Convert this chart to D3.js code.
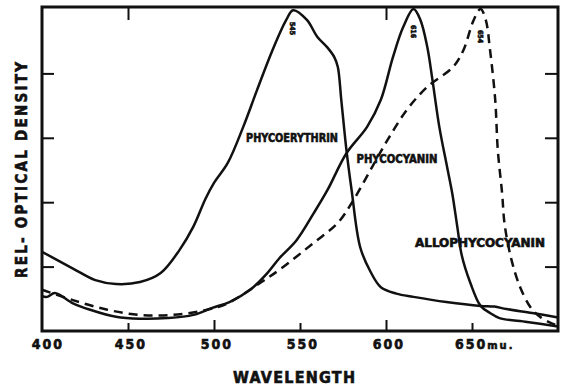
<!DOCTYPE html>
<html>
<head>
<meta charset="utf-8">
<script src="https://cdn.jsdelivr.net/npm/d3@7"></script>
<style>
  body { margin: 0; background: #fff; }
  text { font-family: "DejaVu Sans Condensed", "DejaVu Sans", sans-serif; font-weight: bold; fill: #111; stroke: #111; stroke-width: 0.6px; }
</style>
</head>
<body>
<div id="chart-area"></div>
<script>
// absorption spectra (nm, relative optical density)
var peWave = [400, 418, 431, 443, 457, 469, 480, 488, 495, 500, 508, 517, 525, 534, 542, 546, 554, 560, 566, 570, 572, 574, 577, 580, 585, 591, 597, 606, 616, 635, 655, 663, 670, 685, 700]
var peOd   = [1.23, 0.97, 0.79, 0.73, 0.76, 0.90, 1.26, 1.62, 2.05, 2.30, 2.61, 3.17, 3.74, 4.36, 4.83, 4.98, 4.83, 4.57, 4.40, 4.25, 4.10, 3.59, 2.81, 2.19, 1.30, 0.92, 0.68, 0.58, 0.53, 0.45, 0.39, 0.38, 0.34, 0.28, 0.21]

var pcWave = [400, 403, 407.5, 418, 428, 443, 457, 473, 488, 499, 509, 521, 531, 538, 548, 558, 566, 577, 589, 597, 604, 610, 616, 620, 624, 627, 631, 635.5, 638.5, 641.5, 644, 649, 655, 660.5, 666, 682, 700]
var pcOd   = [0.54, 0.53, 0.59, 0.43, 0.33, 0.22, 0.19, 0.20, 0.25, 0.36, 0.45, 0.64, 0.90, 1.13, 1.41, 1.83, 2.19, 2.76, 3.17, 3.59, 4.25, 4.72, 5.0, 4.83, 4.41, 3.90, 3.17, 2.55, 2.14, 1.61, 1.18, 0.75, 0.39, 0.28, 0.20, 0.14, 0.07]

var apcWave = [400, 418, 438, 457, 476, 496, 508, 527, 538, 558, 572, 581, 592, 601, 612, 624, 639, 645, 651, 655, 658, 660.5, 663.5, 665, 667.5, 669, 673, 678, 684, 689.5, 697, 700]
var apcOd   = [0.64, 0.48, 0.33, 0.25, 0.25, 0.33, 0.43, 0.75, 0.95, 1.37, 1.68, 2.03, 2.55, 2.97, 3.43, 3.79, 4.10, 4.36, 4.83, 5.0, 4.83, 4.36, 3.59, 2.81, 2.14, 1.65, 1.10, 0.68, 0.37, 0.22, 0.11, 0.09]

var xTicks = [400, 450, 500, 550, 600, 650]
var yTicks = [1, 2, 3, 4]
var peakLabels = ["545", "616", "654"]
var peakWaves = [546, 616, 655]
var seriesNames = ["PHYCOERYTHRIN", "PHYCOCYANIN", "ALLOPHYCOCYANIN"]

var width = 565;
var height = 388;

var svg = d3.select("#chart-area").append("svg")
  .attr("width", width)
  .attr("height", height)

var x = d3.scaleLinear().domain([400, 700]).range([42, 558])
var y = d3.scaleLinear().domain([0, 5]).range([331, 9])

// frame
svg.append("rect")
  .attr("x", 42).attr("y", 7)
  .attr("width", 516).attr("height", 324)
  .attr("fill", "none").attr("stroke", "#111").attr("stroke-width", 3)

// bottom axis: ticks inside, alternating length
var xAxisCall = d3.axisBottom(x).tickValues(xTicks).tickSizeInner(-8).tickSizeOuter(0).tickFormat("")
var xAxis = svg.append("g")
  .attr("transform", "translate(0, 331)")
  .call(xAxisCall)
xAxis.select(".domain").remove()
xAxis.selectAll("line")
  .attr("y2", (d) => d == 400 ? 0 : (d % 100 == 0 ? -11 : -8))
  .attr("stroke", "#111").attr("stroke-width", 2)

// top ticks
var topAxis = svg.append("g")
  .attr("transform", "translate(0, 7)")
  .call(d3.axisTop(x).tickValues([450, 600]).tickSizeInner(-13).tickSizeOuter(0).tickFormat(""))
topAxis.select(".domain").remove()
topAxis.selectAll("line").attr("stroke", "#111").attr("stroke-width", 2)

// left / right ticks
var leftAxis = svg.append("g")
  .attr("transform", "translate(42, 0)")
  .call(d3.axisLeft(y).tickValues(yTicks).tickSizeInner(-12).tickSizeOuter(0).tickFormat(""))
leftAxis.select(".domain").remove()
leftAxis.selectAll("line").attr("stroke", "#111").attr("stroke-width", 2)

var rightAxis = svg.append("g")
  .attr("transform", "translate(558, 0)")
  .call(d3.axisRight(y).tickValues(yTicks).tickSizeInner(-13).tickSizeOuter(0).tickFormat(""))
rightAxis.select(".domain").remove()
rightAxis.selectAll("line").attr("stroke", "#111").attr("stroke-width", 2)

// tick labels
svg.selectAll(".xlabel").data(xTicks).enter().append("text")
  .attr("class", "xlabel")
  .attr("x", (d) => d == 650 ? x(d) - 17 : x(d) + (d == 400 ? 6 : 3))
  .attr("y", 349)
  .attr("font-size", "14px")
  .attr("text-anchor", (d) => d == 650 ? "start" : "middle")
  .attr("letter-spacing", "2px")
  .each(function(d) {
    var t = d3.select(this)
    t.append("tspan").text(d)
    if (d == 650) t.append("tspan").attr("font-size", "11px").attr("letter-spacing", "2px").text("mu.")
  })

// curves
var line = d3.line()
  .x((d) => x(d[0]))
  .y((d) => y(d[1]))
  .curve(d3.curveCatmullRom.alpha(0.5))

var series = [
  {w: peWave, v: peOd, dash: null},
  {w: pcWave, v: pcOd, dash: null},
  {w: apcWave, v: apcOd, dash: "9,6"}
]

series.forEach(s => {
  svg.append("path")
    .datum(d3.zip(s.w, s.v))
    .attr("d", line)
    .attr("fill", "none")
    .attr("stroke", "#111")
    .attr("stroke-width", 2.5)
    .attr("stroke-dasharray", s.dash)
})

// curve names
var nameX = [292, 397, 480]
var nameY = [142, 163, 247]
var nameLen = [92, 81, 130]
seriesNames.forEach((n, i) => {
  svg.append("text")
    .attr("x", nameX[i])
    .attr("y", nameY[i])
    .attr("font-size", "12px")
    .attr("text-anchor", "middle")
    .attr("textLength", nameLen[i])
    .attr("lengthAdjust", "spacingAndGlyphs")
    .text(n)
})

// peak wavelength marks
var peakTop = [22, 25, 30]
peakLabels.forEach((p, i) => {
  svg.append("text")
    .attr("transform", "translate(" + (x(peakWaves[i]) - 3) + "," + peakTop[i] + ") rotate(90)")
    .attr("font-size", "7px")
    .attr("stroke-width", 0.2)
    .attr("textLength", 13)
    .attr("lengthAdjust", "spacingAndGlyphs")
    .text(p)
})

// X Label
svg.append("text")
  .attr("x", 294)
  .attr("y", 383)
  .attr("font-size", "16px")
  .attr("text-anchor", "middle")
  .attr("textLength", 122)
  .attr("lengthAdjust", "spacing")
  .text("WAVELENGTH")

// Y Label
svg.append("text")
  .attr("transform", "translate(27, 170) rotate(-90)")
  .attr("font-size", "15px")
  .attr("text-anchor", "middle")
  .attr("textLength", 216)
  .attr("lengthAdjust", "spacing")
  .text("REL- OPTICAL DENSITY")
</script>
</body>
</html>
